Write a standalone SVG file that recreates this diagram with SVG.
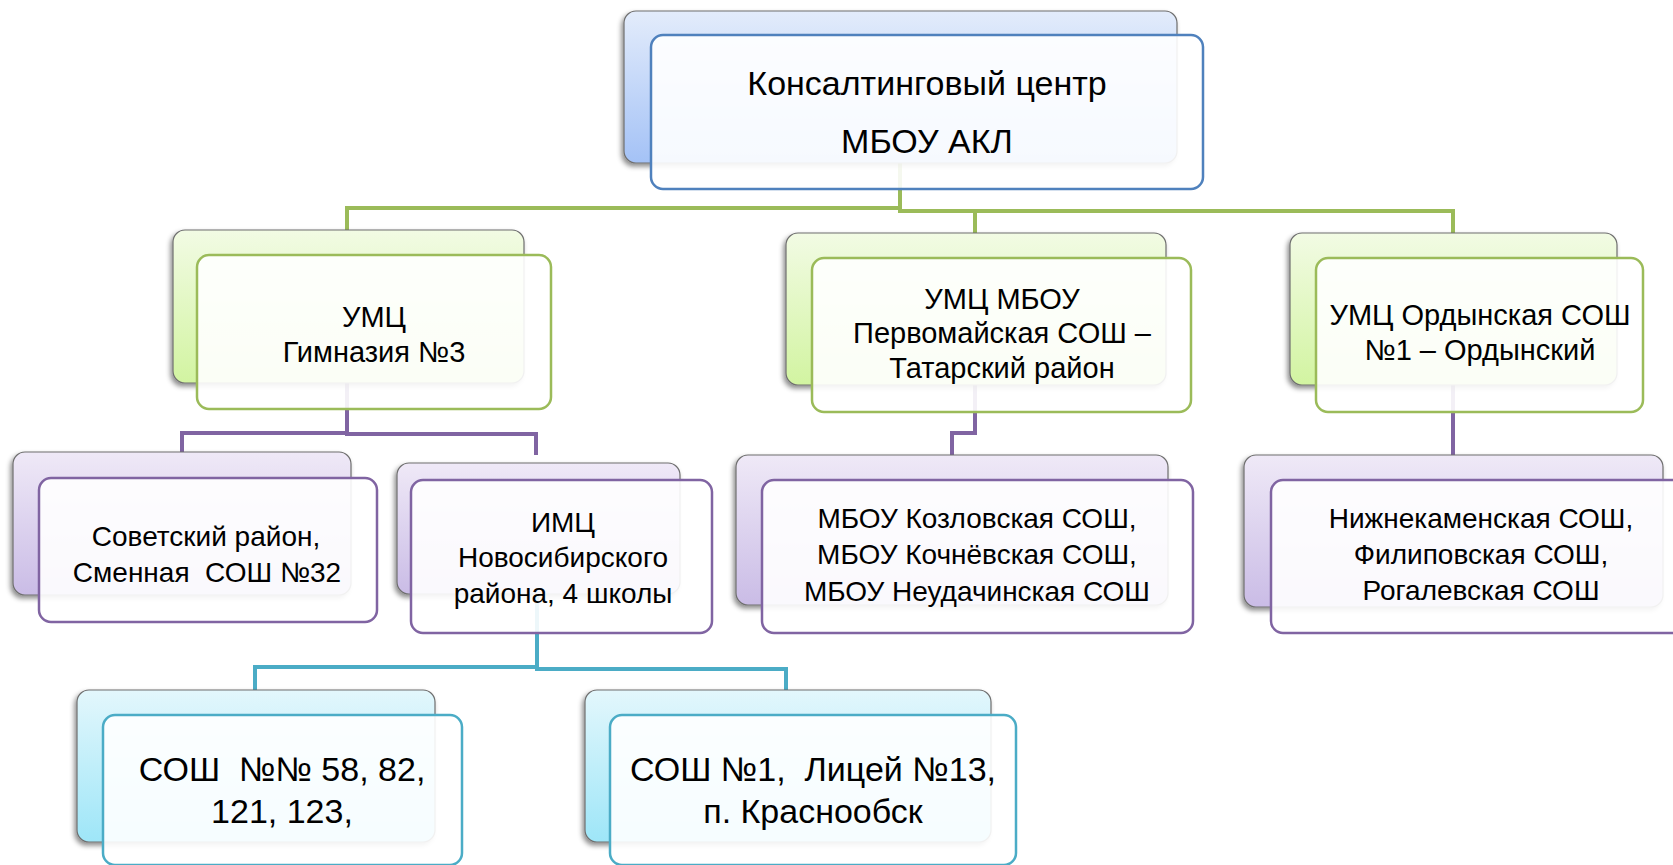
<svg xmlns="http://www.w3.org/2000/svg" width="1673" height="865" viewBox="0 0 1673 865">
<style>
  .back { stroke: #6e6e6e; stroke-width: 1.2; filter: url(#sh); }
  .front { fill: #ffffff; fill-opacity: 0.9; stroke-width: 2.5; }
  .fb { stroke: #4f81bd; }
  .fg { stroke: #9bbb59; }
  .fp { stroke: #8064a2; }
  .ft { stroke: #4bacc6; }
  .conn { fill: none; stroke-width: 4; stroke-linejoin: miter; }
  text { font-family: "Liberation Sans", Arial, sans-serif; fill: #000; text-anchor: middle; }
  .t1 { font-size: 34px; }
  .t2 { font-size: 29px; }
  .t3 { font-size: 28px; }
  .t4 { font-size: 34px; }
</style>
<defs>
  <filter id="sh" x="-10%" y="-10%" width="120%" height="130%">
    <feDropShadow dx="-2" dy="3" stdDeviation="2.5" flood-color="#000" flood-opacity="0.45"/>
  </filter>
  <linearGradient id="gBlue" x1="0" y1="0" x2="0" y2="1">
    <stop offset="0" stop-color="#e3ecfb"/><stop offset="1" stop-color="#a4c2f6"/>
  </linearGradient>
  <linearGradient id="gGreen" x1="0" y1="0" x2="0" y2="1">
    <stop offset="0" stop-color="#f2fbe4"/><stop offset="1" stop-color="#d2f4a1"/>
  </linearGradient>
  <linearGradient id="gPurple" x1="0" y1="0" x2="0" y2="1">
    <stop offset="0" stop-color="#efe9f7"/><stop offset="1" stop-color="#cabce6"/>
  </linearGradient>
  <linearGradient id="gTeal" x1="0" y1="0" x2="0" y2="1">
    <stop offset="0" stop-color="#e3f7fc"/><stop offset="1" stop-color="#9ee6f8"/>
  </linearGradient>
</defs>

<g id="connectors">
  <path class="conn" stroke="#9bbb59" d="M900,163 V208 H347 V231"/>
  <path class="conn" stroke="#9bbb59" d="M900,163 V211 H975 V234"/>
  <path class="conn" stroke="#9bbb59" d="M900,163 V211 H1453 V234"/>
  <path class="conn" stroke="#8064a2" d="M347,383 V433 H182 V452"/>
  <path class="conn" stroke="#8064a2" d="M347,383 V434 H536 V455"/>
  <path class="conn" stroke="#8064a2" d="M975,385 V433 H952 V455"/>
  <path class="conn" stroke="#8064a2" d="M1453,385 V455"/>
  <path class="conn" stroke="#4bacc6" d="M537,594 V667 H255 V690"/>
  <path class="conn" stroke="#4bacc6" d="M537,594 V669 H786 V690"/>
</g>

<g id="node-top">
  <rect class="back" x="624" y="11" width="553" height="152" rx="12" fill="url(#gBlue)"/>
  <rect class="front fb" x="651" y="35" width="552" height="154" rx="12"/>
  <text class="t1" x="927" y="95">Консалтинговый центр</text>
  <text class="t1" x="927" y="153">МБОУ АКЛ</text>
</g>

<g id="node-gymn3">
  <rect class="back" x="173" y="230" width="351" height="153" rx="12" fill="url(#gGreen)"/>
  <rect class="front fg" x="197" y="255" width="354" height="154" rx="12"/>
  <text class="t2" x="374" y="327">УМЦ</text>
  <text class="t2" x="374" y="362">Гимназия №3</text>
</g>

<g id="node-pervomay">
  <rect class="back" x="786" y="233" width="380" height="152" rx="12" fill="url(#gGreen)"/>
  <rect class="front fg" x="812" y="258" width="379" height="154" rx="12"/>
  <text class="t2" x="1002" y="309">УМЦ МБОУ</text>
  <text class="t2" x="1002" y="343">Первомайская СОШ –</text>
  <text class="t2" x="1002" y="378">Татарский район</text>
</g>

<g id="node-ordyn">
  <rect class="back" x="1290" y="233" width="327" height="152" rx="12" fill="url(#gGreen)"/>
  <rect class="front fg" x="1316" y="258" width="327" height="154" rx="12"/>
  <text class="t2" x="1480" y="325">УМЦ Ордынская СОШ</text>
  <text class="t2" x="1480" y="360">№1 – Ордынский</text>
</g>

<g id="node-sovetsky">
  <rect class="back" x="13" y="452" width="338" height="143" rx="12" fill="url(#gPurple)"/>
  <rect class="front fp" x="39" y="478" width="338" height="144" rx="12"/>
  <text class="t3" x="206" y="546">Советский район,</text>
  <text class="t3" x="207" y="582" xml:space="preserve">Сменная  СОШ №32</text>
</g>

<g id="node-imc">
  <rect class="back" x="397" y="463" width="283" height="131" rx="12" fill="url(#gPurple)"/>
  <rect class="front fp" x="411" y="480" width="301" height="153" rx="12"/>
  <text class="t3" x="563" y="532">ИМЦ</text>
  <text class="t3" x="563" y="567">Новосибирского</text>
  <text class="t3" x="563" y="603">района, 4 школы</text>
</g>

<g id="node-kozlov">
  <rect class="back" x="736" y="455" width="432" height="150" rx="12" fill="url(#gPurple)"/>
  <rect class="front fp" x="762" y="480" width="431" height="153" rx="12"/>
  <text class="t3" x="977" y="528">МБОУ Козловская СОШ,</text>
  <text class="t3" x="977" y="564">МБОУ Кочнёвская СОШ,</text>
  <text class="t3" x="977" y="601">МБОУ Неудачинская СОШ</text>
</g>

<g id="node-nizhnekam">
  <rect class="back" x="1244" y="455" width="419" height="152" rx="12" fill="url(#gPurple)"/>
  <rect class="front fp" x="1271" y="480" width="420" height="153" rx="12"/>
  <text class="t3" x="1481" y="528">Нижнекаменская СОШ,</text>
  <text class="t3" x="1481" y="564">Филиповская СОШ,</text>
  <text class="t3" x="1481" y="600">Рогалевская СОШ</text>
</g>

<g id="node-sosh58">
  <rect class="back" x="77" y="690" width="358" height="152" rx="12" fill="url(#gTeal)"/>
  <rect class="front ft" x="103" y="715" width="359" height="150" rx="12"/>
  <text class="t4" x="282" y="781" xml:space="preserve">СОШ  №№ 58, 82,</text>
  <text class="t4" x="282" y="823">121, 123,</text>
</g>

<g id="node-sosh1">
  <rect class="back" x="585" y="690" width="406" height="152" rx="12" fill="url(#gTeal)"/>
  <rect class="front ft" x="610" y="715" width="406" height="150" rx="12"/>
  <text class="t4" x="813" y="781" xml:space="preserve">СОШ №1,  Лицей №13,</text>
  <text class="t4" x="813" y="823">п. Краснообск</text>
</g>
</svg>
